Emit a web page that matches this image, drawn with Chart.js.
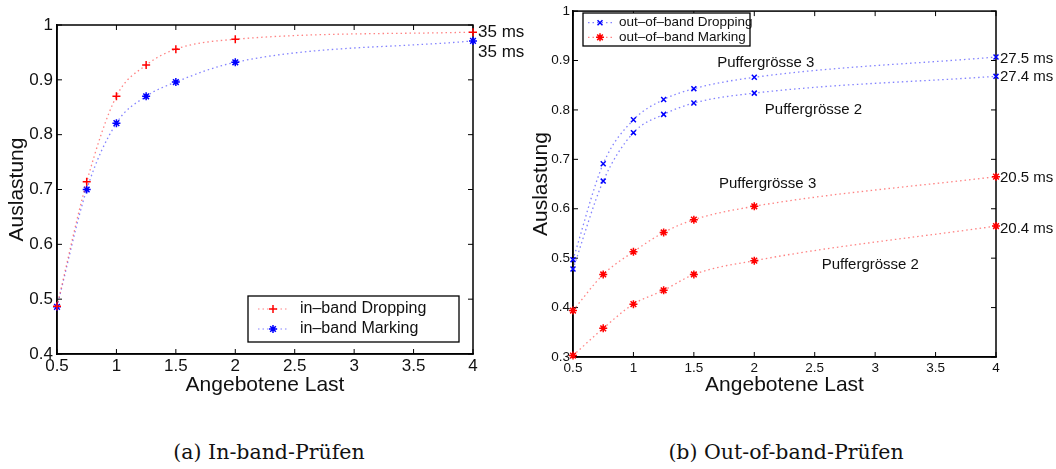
<!DOCTYPE html>
<html>
<head>
<meta charset="utf-8">
<script src="https://cdn.jsdelivr.net/npm/chart.js@4"></script>
<style>
  body { margin: 0; background: #fff; width: 1056px; height: 469px; position: relative; overflow: hidden; }
  canvas { position: absolute; top: 0; }
  #chartA { left: 0; }
  #chartB { left: 520px; }
  .cap { position: absolute; top: 440px; width: 400px; text-align: center;
         font-family: "DejaVu Serif", serif; font-size: 20.5px; color: #111; }
</style>
</head>
<body>
<canvas id="chartA" width="540" height="420"></canvas>
<canvas id="chartB" width="536" height="420"></canvas>
<div class="cap" style="left:69px">(a) In-band-Prüfen</div>
<div class="cap" style="left:586px">(b) Out-of-band-Prüfen</div>
<script>
// offered load (x) for all series
const loads = [0.5, 0.75, 1, 1.25, 1.5, 2, 4];

// (a) in-band
const inbandDropping = [0.487, 0.714, 0.870, 0.927, 0.956, 0.974, 0.987];
const inbandMarking  = [0.486, 0.700, 0.821, 0.870, 0.896, 0.932, 0.971];

// (b) out-of-band, buffer size 3 and 2
const oobDropping3 = [0.497, 0.691, 0.780, 0.821, 0.843, 0.866, 0.907];
const oobDropping2 = [0.478, 0.656, 0.754, 0.791, 0.814, 0.834, 0.868];
const oobMarking3  = [0.394, 0.467, 0.513, 0.552, 0.578, 0.605, 0.665];
const oobMarking2  = [0.303, 0.358, 0.407, 0.435, 0.467, 0.495, 0.565];

const xTicks  = [0.5, 1, 1.5, 2, 2.5, 3, 3.5, 4];
const yTicksA = [0.4, 0.5, 0.6, 0.7, 0.8, 0.9, 1];
const yTicksB = [0.3, 0.4, 0.5, 0.6, 0.7, 0.8, 0.9, 1];

const SANS = "'Liberation Sans', Arial, sans-serif";
const RED = "#ff0000", BLUE = "#0000ff";
const RED_LINE = "rgba(255,90,90,0.75)", BLUE_LINE = "rgba(90,90,255,0.75)";

function pts(ys) {
  return loads.map((x, i) => ({ x: x, y: ys[i] }));
}

function series(label, ys, line, mark, style, radius) {
  return {
    label: label,
    data: pts(ys),
    borderColor: line,
    borderWidth: 1.3,
    borderDash: [1.5, 3],
    cubicInterpolationMode: "monotone",
    pointStyle: style,
    pointRadius: radius,
    pointBorderColor: mark,
    pointBackgroundColor: mark,
    pointBorderWidth: 1.5,
    clip: false,
  };
}

// box round the plot with inward ticks on all four sides
const frame = {
  id: "frame",
  beforeDatasetsDraw(chart) {
    const { ctx, chartArea: a, scales: { x, y } } = chart;
    ctx.save();
    ctx.strokeStyle = "#000";
    ctx.lineWidth = 1.5;
    ctx.strokeRect(a.left, a.top, a.right - a.left, a.bottom - a.top);
    ctx.lineWidth = 1;
    const L = 5;
    ctx.beginPath();
    x.ticks.forEach(t => {
      const px = x.getPixelForValue(t.value);
      ctx.moveTo(px, a.bottom); ctx.lineTo(px, a.bottom - L);
      ctx.moveTo(px, a.top); ctx.lineTo(px, a.top + L);
    });
    y.ticks.forEach(t => {
      const py = y.getPixelForValue(t.value);
      ctx.moveTo(a.left, py); ctx.lineTo(a.left + L, py);
      ctx.moveTo(a.right, py); ctx.lineTo(a.right - L, py);
    });
    ctx.stroke();
    ctx.restore();
  }
};

// free text placed at data coordinates
const notes = {
  id: "notes",
  afterDatasetsDraw(chart, args, opts) {
    const { ctx, scales: { x, y } } = chart;
    ctx.save();
    ctx.fillStyle = "#111";
    ctx.textBaseline = "middle";
    (opts.items || []).forEach(n => {
      ctx.font = n.size + "px " + SANS;
      ctx.textAlign = n.align || "center";
      ctx.fillText(n.text, x.getPixelForValue(n.x) + (n.dx || 0), y.getPixelForValue(n.y));
    });
    ctx.restore();
  }
};

// matlab-like legend box inside the plot
const boxLegend = {
  id: "boxLegend",
  afterDatasetsDraw(chart, args, opts) {
    const { ctx } = chart;
    const [x0, y0, x1, y1] = opts.box;
    ctx.save();
    ctx.fillStyle = "#fff";
    ctx.fillRect(x0, y0, x1 - x0, y1 - y0);
    ctx.strokeStyle = "#000";
    ctx.lineWidth = 1.3;
    ctx.strokeRect(x0, y0, x1 - x0, y1 - y0);
    opts.entries.forEach((di, i) => {
      const ds = chart.data.datasets[di];
      const cy = opts.firstY + i * opts.rowGap;
      ctx.strokeStyle = ds.borderColor;
      ctx.lineWidth = 1.2;
      ctx.setLineDash([1.5, 3]);
      ctx.beginPath();
      ctx.moveTo(opts.lineX0, cy); ctx.lineTo(opts.lineX1, cy);
      ctx.stroke();
      ctx.setLineDash([]);
      ctx.strokeStyle = ds.pointBorderColor;
      ctx.fillStyle = ds.pointBackgroundColor;
      ctx.lineWidth = ds.pointBorderWidth;
      Chart.helpers.drawPoint(ctx, { pointStyle: ds.pointStyle, radius: ds.pointRadius, rotation: 0, borderWidth: ds.pointBorderWidth },
        (opts.lineX0 + opts.lineX1) / 2, cy);
      ctx.fillStyle = "#111";
      ctx.font = opts.size + "px " + SANS;
      ctx.textAlign = "left";
      ctx.textBaseline = "middle";
      ctx.fillText(ds.label, opts.textX, cy);
    });
    ctx.restore();
  }
};

function axes(yTicks, yMin, tickSize, yWidth, xHeight, xPad, yPad, titleYPad, titleXPad) {
  const tickFont = { family: SANS, size: tickSize };
  const titleFont = { family: SANS, size: 21 };
  return {
    x: {
      type: "linear", min: 0.5, max: 4,
      afterBuildTicks(s) { s.ticks = xTicks.map(v => ({ value: v })); },
      afterFit(s) { s.height = xHeight; },
      ticks: { font: tickFont, color: "#111", padding: xPad, maxRotation: 0, autoSkip: false,
               callback: v => String(v) },
      grid: { drawOnChartArea: false, drawTicks: false },
      border: { color: "#000", width: 1.5 },
      title: { display: true, text: "Angebotene Last", font: titleFont, color: "#111",
               padding: { top: 0, bottom: titleXPad } },
    },
    y: {
      type: "linear", min: yMin, max: 1,
      afterBuildTicks(s) { s.ticks = yTicks.map(v => ({ value: v })); },
      afterFit(s) { s.width = yWidth; },
      ticks: { font: tickFont, color: "#111", padding: yPad, autoSkip: false,
               callback: v => String(v) },
      grid: { drawOnChartArea: false, drawTicks: false },
      border: { color: "#000", width: 1.5 },
      title: { display: true, text: "Auslastung", font: titleFont, color: "#111",
               padding: { top: titleYPad, bottom: 0 } },
    },
  };
}

new Chart(document.getElementById("chartA"), {
  type: "line",
  data: {
    datasets: [
      series("in\u2013band Dropping", inbandDropping, RED_LINE, RED, "cross", 4),
      series("in\u2013band Marking", inbandMarking, BLUE_LINE, BLUE, "star", 4),
    ],
  },
  options: {
    responsive: false,
    animation: false,
    events: [],
    layout: { padding: { top: 25, right: 67, left: 0, bottom: 0 } },
    scales: axes(yTicksA, 0.4, 17, 57, 66, 2, 4, 5, 22),
    plugins: {
      legend: { display: false },
      tooltip: { enabled: false },
      notes: {
        items: [
          { text: "35 ms", x: 4, y: 0.987, dx: 5, align: "left", size: 17 },
          { text: "35 ms", x: 4, y: 0.951, dx: 5, align: "left", size: 17 },
        ],
      },
      boxLegend: { box: [248, 296, 459, 342], entries: [0, 1], firstY: 309, rowGap: 20,
                   lineX0: 258, lineX1: 288, textX: 300, size: 16 },
    },
  },
  plugins: [frame, notes, boxLegend],
});

new Chart(document.getElementById("chartB"), {
  type: "line",
  data: {
    datasets: [
      series("out\u2013of\u2013band Dropping", oobDropping3, BLUE_LINE, BLUE, "crossRot", 3.5),
      series("out\u2013of\u2013band Dropping", oobDropping2, BLUE_LINE, BLUE, "crossRot", 3.5),
      series("out\u2013of\u2013band Marking", oobMarking3, RED_LINE, RED, "star", 4),
      series("out\u2013of\u2013band Marking", oobMarking2, RED_LINE, RED, "star", 4),
    ],
  },
  options: {
    responsive: false,
    animation: false,
    events: [],
    layout: { padding: { top: 9, right: 60, left: 0, bottom: 0 } },
    scales: axes(yTicksB, 0.3, 13.5, 53, 63, 3, 3, 9, 22),
    plugins: {
      legend: { display: false },
      tooltip: { enabled: false },
      notes: {
        items: [
          { text: "Puffergrösse 3", x: 2.095, y: 0.896, size: 15 },
          { text: "Puffergrösse 2", x: 2.49, y: 0.801, size: 15 },
          { text: "Puffergrösse 3", x: 2.11, y: 0.650, size: 15 },
          { text: "Puffergrösse 2", x: 2.96, y: 0.487, size: 15 },
          { text: "27.5 ms", x: 4, y: 0.903, dx: 4, align: "left", size: 15 },
          { text: "27.4 ms", x: 4, y: 0.866, dx: 4, align: "left", size: 15 },
          { text: "20.5 ms", x: 4, y: 0.663, dx: 4, align: "left", size: 15 },
          { text: "20.4 ms", x: 4, y: 0.559, dx: 4, align: "left", size: 15 },
        ],
      },
      boxLegend: { box: [63, 13, 230, 46], entries: [0, 2], firstY: 22.7, rowGap: 14.6,
                   lineX0: 68, lineX1: 92, textX: 99, size: 13.5 },
    },
  },
  plugins: [frame, notes, boxLegend],
});
</script>
</body>
</html>
